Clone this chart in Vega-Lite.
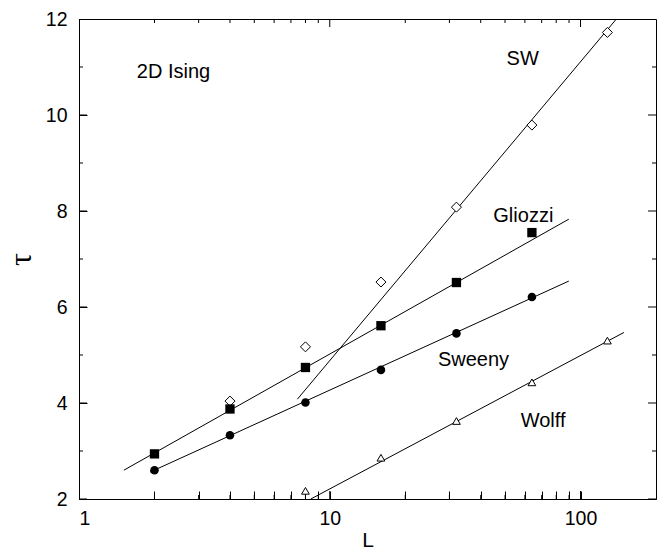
{
  "$schema": "https://vega.github.io/schema/vega-lite/v6.json",
  "autosize": {"type": "none"},
  "padding": {"left": 79, "top": 19, "right": 6, "bottom": 52},
  "width": 577,
  "height": 480,
  "background": "white",
  "config": {
    "view": {"stroke": "black", "strokeWidth": 1},
    "axis": {"grid": false, "domain": false, "labelColor": "black", "labelFont": "Liberation Sans", "labelFontSize": 19.5, "titleFont": "Liberation Sans", "titleColor": "black", "titleFontWeight": "normal"}
  },
  "datasets": {
    "fits": [
      {"series": "SW", "L": 7.43, "tau": 4.08},
      {"series": "SW", "L": 139, "tau": 12},
      {"series": "Gliozzi", "L": 1.51, "tau": 2.60},
      {"series": "Gliozzi", "L": 89.8, "tau": 7.83},
      {"series": "Sweeny", "L": 1.92, "tau": 2.56},
      {"series": "Sweeny", "L": 89.8, "tau": 6.54},
      {"series": "Wolff", "L": 8.4, "tau": 2.0},
      {"series": "Wolff", "L": 149, "tau": 5.47}
    ],
    "open": [
      {"series": "SW", "L": 4, "tau": 4.04},
      {"series": "SW", "L": 8, "tau": 5.17},
      {"series": "SW", "L": 16, "tau": 6.52},
      {"series": "SW", "L": 32, "tau": 8.08},
      {"series": "SW", "L": 64, "tau": 9.79},
      {"series": "SW", "L": 128, "tau": 11.72},
      {"series": "Wolff", "L": 8, "tau": 2.17},
      {"series": "Wolff", "L": 16, "tau": 2.86},
      {"series": "Wolff", "L": 32, "tau": 3.625},
      {"series": "Wolff", "L": 64, "tau": 4.43},
      {"series": "Wolff", "L": 128, "tau": 5.30}
    ],
    "filled": [
      {"series": "Gliozzi", "L": 2, "tau": 2.94},
      {"series": "Gliozzi", "L": 4, "tau": 3.875},
      {"series": "Gliozzi", "L": 8, "tau": 4.74},
      {"series": "Gliozzi", "L": 16, "tau": 5.61},
      {"series": "Gliozzi", "L": 32, "tau": 6.51},
      {"series": "Gliozzi", "L": 64, "tau": 7.55},
      {"series": "Sweeny", "L": 2, "tau": 2.60},
      {"series": "Sweeny", "L": 4, "tau": 3.33},
      {"series": "Sweeny", "L": 8, "tau": 4.01},
      {"series": "Sweeny", "L": 16, "tau": 4.69},
      {"series": "Sweeny", "L": 32, "tau": 5.45},
      {"series": "Sweeny", "L": 64, "tau": 6.21}
    ],
    "labels": [
      {"text": "2D Ising", "L": 1.70, "tau": 10.77},
      {"text": "SW", "L": 50.7, "tau": 11.04},
      {"text": "Gliozzi", "L": 44.9, "tau": 7.78},
      {"text": "Sweeny", "L": 27.0, "tau": 4.78},
      {"text": "Wolff", "L": 57.7, "tau": 3.51}
    ],
    "xticks": [
      {"L": 1, "kind": "major"}, {"L": 2, "kind": "minor"}, {"L": 3, "kind": "minor"}, {"L": 4, "kind": "minor"}, {"L": 5, "kind": "minor"},
      {"L": 6, "kind": "minor"}, {"L": 7, "kind": "minor"}, {"L": 8, "kind": "minor"}, {"L": 9, "kind": "minor"},
      {"L": 10, "kind": "major"}, {"L": 20, "kind": "minor"}, {"L": 30, "kind": "minor"}, {"L": 40, "kind": "minor"}, {"L": 50, "kind": "minor"},
      {"L": 60, "kind": "minor"}, {"L": 70, "kind": "minor"}, {"L": 80, "kind": "minor"}, {"L": 90, "kind": "minor"},
      {"L": 100, "kind": "major"}
    ],
    "yticks": [
      {"tau": 2, "kind": "major"}, {"tau": 3, "kind": "minor"}, {"tau": 4, "kind": "major"}, {"tau": 5, "kind": "minor"},
      {"tau": 6, "kind": "major"}, {"tau": 7, "kind": "minor"}, {"tau": 8, "kind": "major"}, {"tau": 9, "kind": "minor"},
      {"tau": 10, "kind": "major"}, {"tau": 11, "kind": "minor"}, {"tau": 12, "kind": "major"}
    ]
  },
  "resolve": {"axis": {"x": "independent", "y": "independent"}},
  "layer": [
    {
      "data": {"name": "fits"},
      "mark": {"type": "line", "color": "black", "strokeWidth": 1},
      "encoding": {
        "x": {"field": "L", "type": "quantitative",
          "scale": {"type": "log", "domain": [1, 200], "nice": false},
          "axis": {"orient": "bottom", "title": "L", "titleFontSize": 21, "titlePadding": 2,
            "tickCount": 3, "format": "d", "offset": -8, "tickSize": 8, "tickColor": "black", "tickWidth": 1, "labelPadding": 10}},
        "y": {"field": "tau", "type": "quantitative",
          "scale": {"domain": [2, 12], "nice": false, "zero": false},
          "axis": {"orient": "left", "title": "τ", "titleFont": "Liberation Serif", "titleFontSize": 32, "titlePadding": 8,
            "tickCount": 5, "offset": -8, "tickSize": 8, "tickColor": "black", "tickWidth": 1, "labelPadding": 12}},
        "detail": {"field": "series"}
      }
    },
    {
      "data": {"name": "xticks"},
      "mark": {"type": "tick", "orient": "vertical", "color": "black", "thickness": 1, "opacity": 1, "clip": true},
      "encoding": {
        "x": {"field": "L", "type": "quantitative", "axis": null},
        "y": {"datum": 2, "type": "quantitative", "axis": null},
        "size": {"condition": {"test": "datum.kind == 'major'", "value": 16}, "value": 8}
      }
    },
    {
      "data": {"name": "xticks"},
      "mark": {"type": "tick", "orient": "vertical", "color": "black", "thickness": 1, "opacity": 1, "clip": true},
      "encoding": {
        "x": {"field": "L", "type": "quantitative", "axis": null},
        "y": {"datum": 12, "type": "quantitative", "axis": null},
        "size": {"condition": {"test": "datum.kind == 'major'", "value": 16}, "value": 8}
      }
    },
    {
      "data": {"name": "yticks"},
      "mark": {"type": "tick", "orient": "horizontal", "color": "black", "thickness": 1, "opacity": 1, "clip": true},
      "encoding": {
        "x": {"datum": 1, "type": "quantitative", "axis": null},
        "y": {"field": "tau", "type": "quantitative", "axis": null},
        "size": {"condition": {"test": "datum.kind == 'major'", "value": 16}, "value": 8}
      }
    },
    {
      "data": {"name": "yticks"},
      "mark": {"type": "tick", "orient": "horizontal", "color": "black", "thickness": 1, "opacity": 1, "clip": true},
      "encoding": {
        "x": {"datum": 200, "type": "quantitative", "axis": null},
        "y": {"field": "tau", "type": "quantitative", "axis": null},
        "size": {"condition": {"test": "datum.kind == 'major'", "value": 16}, "value": 8}
      }
    },
    {
      "data": {"name": "open"},
      "mark": {"type": "point", "filled": false, "fill": "white", "stroke": "black", "strokeWidth": 1, "opacity": 1},
      "encoding": {
        "x": {"field": "L", "type": "quantitative", "axis": null},
        "y": {"field": "tau", "type": "quantitative", "axis": null},
        "shape": {"field": "series", "type": "nominal",
          "scale": {"domain": ["SW", "Gliozzi", "Sweeny", "Wolff"], "range": ["diamond", "square", "circle", "triangle-up"]}, "legend": null},
        "size": {"field": "series", "type": "nominal",
          "scale": {"domain": ["SW", "Gliozzi", "Sweeny", "Wolff"], "range": [100, 60, 60, 85]}, "legend": null}
      }
    },
    {
      "data": {"name": "filled"},
      "mark": {"type": "point", "filled": true, "fill": "black", "strokeWidth": 0, "opacity": 1},
      "encoding": {
        "x": {"field": "L", "type": "quantitative", "axis": null},
        "y": {"field": "tau", "type": "quantitative", "axis": null},
        "shape": {"field": "series", "type": "nominal", "legend": null},
        "size": {"field": "series", "type": "nominal", "legend": null}
      }
    },
    {
      "data": {"name": "labels"},
      "mark": {"type": "text", "align": "left", "baseline": "alphabetic", "font": "Liberation Sans", "fontSize": 20, "color": "black"},
      "encoding": {
        "x": {"field": "L", "type": "quantitative", "axis": null},
        "y": {"field": "tau", "type": "quantitative", "axis": null},
        "text": {"field": "text"}
      }
    }
  ]
}
